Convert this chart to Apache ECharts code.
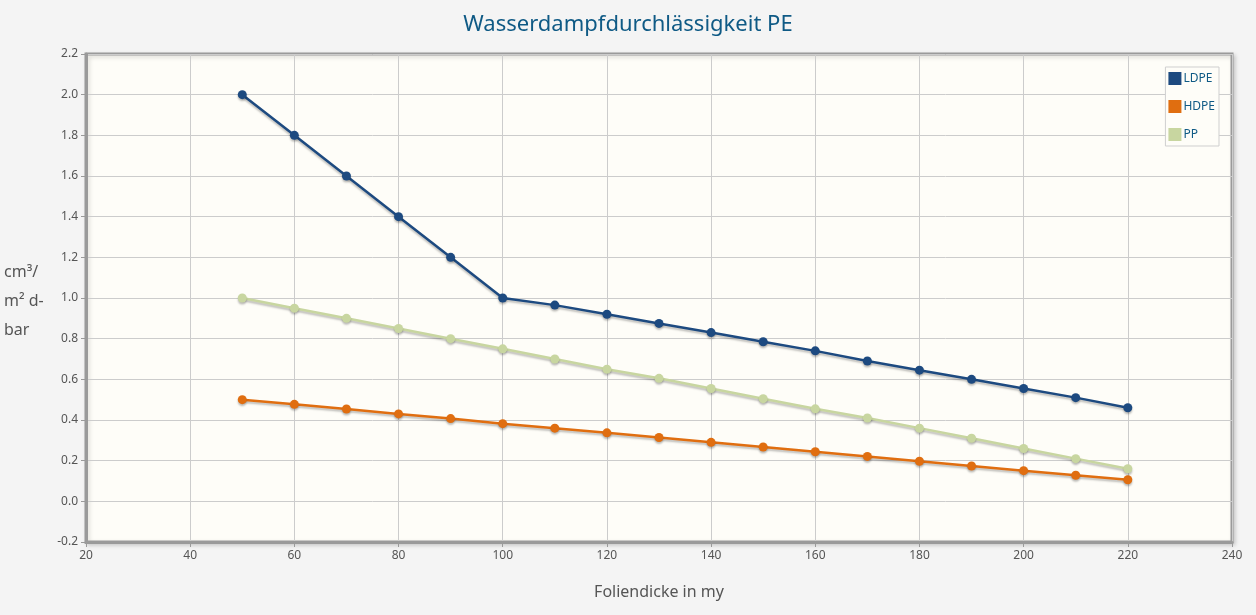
<!DOCTYPE html>
<html>
<head>
<meta charset="utf-8">
<script src="https://cdn.jsdelivr.net/npm/echarts@6/dist/echarts.min.js"></script>
<style>
html,body{margin:0;padding:0;background:#f4f4f4;}
#c{width:1256px;height:615px;}
</style>
</head>
<body>
<div id="c"></div>
<script>
var thickness = [50,60,70,80,90,100,110,120,130,140,150,160,170,180,190,200,210,220];
var ldpe = [2.0,1.8,1.6,1.4,1.2,1.0,0.965,0.92,0.875,0.83,0.785,0.74,0.69,0.645,0.6,0.555,0.51,0.46];
var hdpe = [0.5,0.477,0.454,0.43,0.407,0.382,0.36,0.337,0.314,0.29,0.267,0.244,0.221,0.197,0.174,0.151,0.128,0.106];
var pp = [1.0,0.95,0.9,0.85,0.8,0.75,0.7,0.65,0.605,0.555,0.505,0.455,0.41,0.36,0.31,0.26,0.21,0.16];
var seriesNames = ['LDPE','HDPE','PP'];
var colors = ['#1d4a80','#e06e10','#c8d6a0'];

function pairs(ys){ return thickness.map(function(x,i){ return [x, ys[i]]; }); }

var chart = echarts.init(document.getElementById('c'));
var font = 'Noto Sans';
function mk(name, ys, color){
  return {
    name: name, type: 'line', data: pairs(ys),
    symbol: 'circle', symbolSize: 9,
    lineStyle: {width: 2.5, color: color, shadowColor: 'rgba(0,0,0,0.25)', shadowBlur: 2, shadowOffsetY: 2},
    itemStyle: {color: color, shadowColor: 'rgba(0,0,0,0.25)', shadowBlur: 2, shadowOffsetY: 2},
    animation: false
  };
}
chart.setOption({
  backgroundColor: '#f4f4f4',
  animation: false,
  title: {
    text: 'Wasserdampfdurchlässigkeit PE', left: 'center', top: 9,
    textStyle: {color: '#0f5a85', fontSize: 22, fontWeight: 'normal', fontFamily: font}
  },
  legend: {
    orient: 'vertical', right: 37, top: 67,
    itemWidth: 13, itemHeight: 13, itemGap: 15, icon: 'rect',
    borderColor: '#cfcfcf', borderWidth: 1, backgroundColor: '#fefdf8',
    padding: [5, 4, 5, 3],
    textStyle: {color: '#0f5a85', fontSize: 12, fontFamily: font, padding: [0,0,0,-3]},
    data: seriesNames
  },
  grid: {
    left: 86, right: 24, top: 54, bottom: 73,
    show: true, backgroundColor: '#fefdf8', borderColor: '#9a9a9a', borderWidth: 3,
    shadowColor: 'rgba(0,0,0,0.15)', shadowBlur: 4, shadowOffsetX: 2, shadowOffsetY: 2
  },
  xAxis: {
    type: 'value', min: 20, max: 240, interval: 20,
    name: 'Foliendicke in my', nameLocation: 'middle', nameGap: 42,
    nameTextStyle: {color: '#555', fontSize: 16, fontFamily: font},
    axisLine: {show: true, onZero: false, lineStyle: {color: '#9a9a9a', width: 3}},
    axisTick: {show: true, length: 5, lineStyle: {color: '#9a9a9a'}},
    axisLabel: {color: '#555', fontSize: 12, fontFamily: font, margin: 8},
    splitLine: {show: true, lineStyle: {color: '#cccccc', width: 1}}
  },
  yAxis: {
    type: 'value', min: -0.2, max: 2.2, interval: 0.2,
    axisLine: {show: true, onZero: false, lineStyle: {color: '#9a9a9a', width: 3}},
    axisTick: {show: true, length: 5, lineStyle: {color: '#9a9a9a'}},
    axisLabel: {color: '#555', fontSize: 12, fontFamily: font, margin: 8,
      formatter: function(v){ return v.toFixed(1); }},
    splitLine: {show: true, lineStyle: {color: '#cccccc', width: 1}}
  },
  graphic: [{
    type: 'text', left: 4, top: 258,
    style: {text: 'cm³/\nm² d-\nbar', fill: '#555', font: '16px "Noto Sans"', lineHeight: 29}
  }],
  series: [mk('LDPE', ldpe, colors[0]), mk('HDPE', hdpe, colors[1]), mk('PP', pp, colors[2])]
});
</script>
</body>
</html>
